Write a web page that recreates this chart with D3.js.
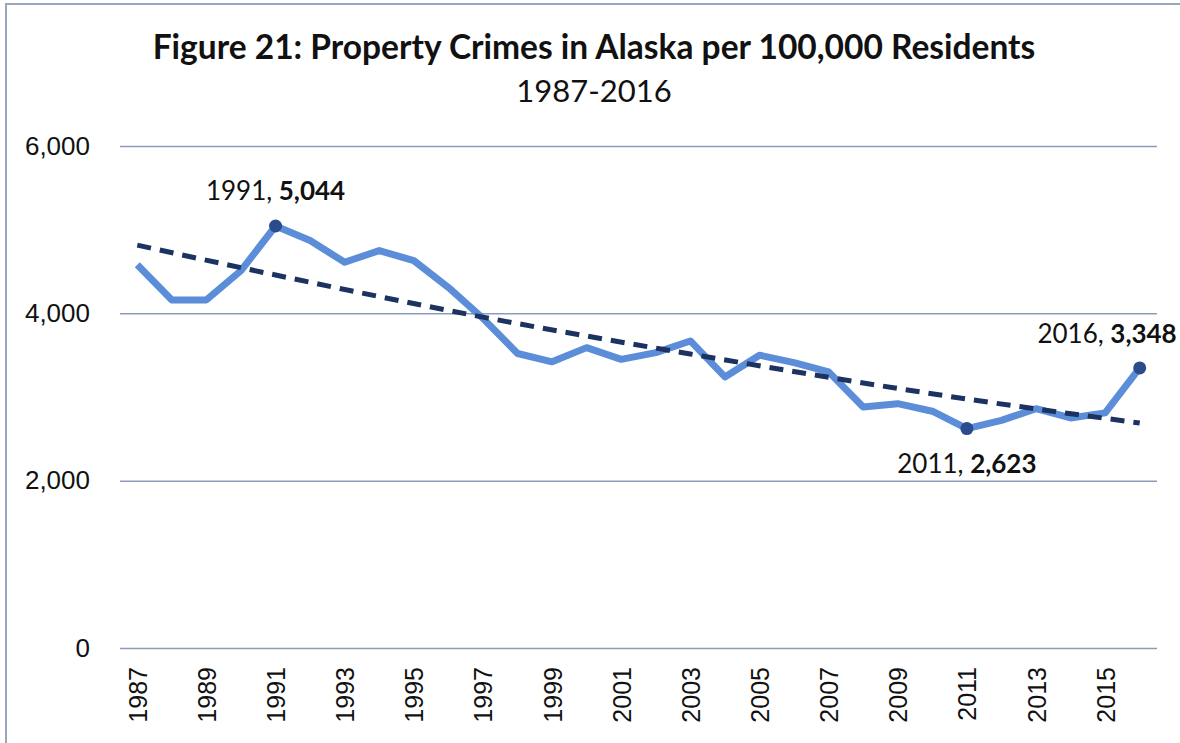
<!DOCTYPE html>
<html>
<head>
<meta charset="utf-8">
<script src="https://cdn.jsdelivr.net/npm/d3@7"></script>
<style>
  html, body { margin: 0; padding: 0; background: #fff; }
  svg { display: block; font-family: Lato, "Open Sans", sans-serif; }
</style>
</head>
<body>
<svg id="chart" width="1180" height="743"></svg>
<script>
const years = d3.range(1987, 2017);
const crimeRates = [4580, 4160, 4160, 4510, 5044, 4870, 4610, 4750, 4630, 4310,
                    3940, 3520, 3420, 3590, 3450, 3530, 3670, 3240, 3500, 3410,
                    3300, 2880, 2920, 2830, 2623, 2720, 2860, 2750, 2810, 3348];
// trend line as printed (read at a few years)
const trendYears = [1987, 1991, 1997, 2003, 2011, 2016];
const trendValues = [4815, 4458, 3955, 3514, 2976, 2689];
const yTicks = [0, 2000, 4000, 6000];
const xTickYears = years.filter(y => y % 2 === 1);
const callouts = [1991, 2011, 2016];

const data = years.map((y, i) => ({ year: y, value: crimeRates[i] }));
const trend = trendYears.map((y, i) => ({ year: y, value: trendValues[i] }));

const svg = d3.select('#chart');
const width = 1180, height = 743;
const plotLeft = 120, plotRight = 1157, plotTop = 146, plotBottom = 648;

// outer frame
svg.append('rect')
    .attr('x', 6).attr('y', 4)
    .attr('width', width + 10).attr('height', height + 10)
    .attr('fill', 'none')
    .attr('stroke', '#9aa6bf')
    .attr('stroke-width', 2);

const x = d3.scalePoint()
    .domain(years)
    .range([plotLeft, plotRight])
    .padding(0.5);

const y = d3.scaleLinear()
    .domain([0, 6000])
    .range([plotBottom, plotTop]);

// gridlines + y labels
const yAxis = d3.axisLeft(y)
    .tickValues(yTicks)
    .tickSize(-(plotRight - plotLeft))
    .tickPadding(30)
    .tickFormat(d3.format(','));

svg.append('g')
    .attr('transform', `translate(${plotLeft},0)`)
    .call(yAxis)
    .call(g => g.select('.domain').remove())
    .call(g => g.selectAll('.tick line').attr('stroke', '#8d9bb8').attr('stroke-width', 1.5))
    .call(g => g.selectAll('.tick text')
        .attr('fill', '#111')
        .style('font-size', '26px'));

// x labels
const xAxis = d3.axisBottom(x)
    .tickValues(xTickYears)
    .tickSize(0)
    .tickPadding(0);

svg.append('g')
    .attr('transform', `translate(0,${plotBottom})`)
    .call(xAxis)
    .call(g => g.select('.domain').remove())
    .call(g => g.selectAll('.tick text')
        .attr('fill', '#111')
        .style('font-size', '25px')
        .attr('text-anchor', 'end')
        .attr('transform', 'translate(0,19) rotate(-90)')
        .attr('x', 0)
        .attr('y', 0)
        .attr('dy', '0.36em'));

const line = d3.line()
    .x(d => x(d.year))
    .y(d => y(d.value));

svg.append('path')
    .datum(data)
    .attr('d', line)
    .attr('fill', 'none')
    .attr('stroke', '#5b8dd8')
    .attr('stroke-width', 7)
    .attr('stroke-linejoin', 'round');

// trend
svg.append('path')
    .datum(trend)
    .attr('d', line.curve(d3.curveMonotoneX)(trend))
    .attr('fill', 'none')
    .attr('stroke', '#1c3260')
    .attr('stroke-width', 5)
    .attr('stroke-dasharray', '14,9');

// highlighted points
const marked = data.filter(d => callouts.includes(d.year));

svg.selectAll('.dot')
    .data(marked)
    .enter()
    .append('circle')
    .attr('class', 'dot')
    .attr('cx', d => x(d.year))
    .attr('cy', d => y(d.value))
    .attr('r', 6.5)
    .attr('fill', '#2b4b8c');

const labelPos = {
    1991: { dx: 0, dy: -26, anchor: 'middle' },
    2011: { dx: 0, dy: 44, anchor: 'middle' },
    2016: { dx: 37, dy: -25, anchor: 'end' }
};

const labels = svg.selectAll('.callout')
    .data(marked)
    .enter()
    .append('text')
    .attr('class', 'callout')
    .attr('x', d => x(d.year) + labelPos[d.year].dx)
    .attr('y', d => y(d.value) + labelPos[d.year].dy)
    .attr('text-anchor', d => labelPos[d.year].anchor)
    .attr('fill', '#111')
    .style('font-size', '26px');

labels.append('tspan').text(d => d.year + ', ');
labels.append('tspan').style('font-weight', 'bold').text(d => d3.format(',')(d.value));

// titles
svg.append('text')
    .attr('x', 594)
    .attr('y', 59)
    .attr('text-anchor', 'middle')
    .attr('fill', '#111')
    .style('font-size', '33.5px')
    .style('font-weight', 'bold')
    .text('Figure 21: Property Crimes in Alaska per 100,000 Residents');

svg.append('text')
    .attr('x', 594)
    .attr('y', 102)
    .attr('text-anchor', 'middle')
    .attr('fill', '#111')
    .style('font-size', '31px')
    .text('1987-2016');
</script>
</body>
</html>
